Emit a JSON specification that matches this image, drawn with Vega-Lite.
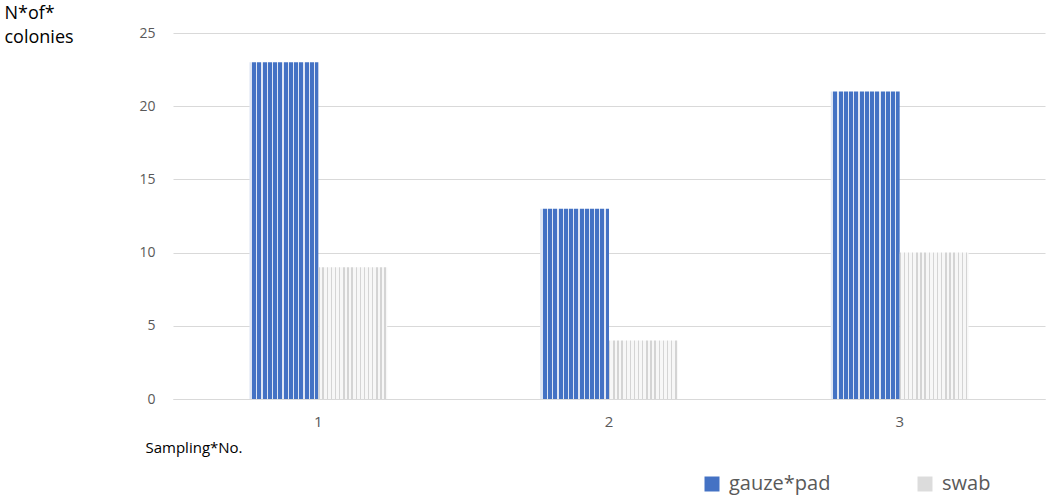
{
  "$schema": "https://vega.github.io/schema/vega-lite/v6.json",
  "width": 872,
  "height": 366,
  "autosize": "none",
  "padding": {"left": 173, "top": 33, "right": 1, "bottom": 103},
  "background": "white",
  "config": {
    "font": "Open Sans",
    "view": {"stroke": null}
  },
  "data": {
    "values": [
      {"sample": "1", "series": "gauze*pad", "colonies": 23},
      {"sample": "1", "series": "swab", "colonies": 9},
      {"sample": "2", "series": "gauze*pad", "colonies": 13},
      {"sample": "2", "series": "swab", "colonies": 4},
      {"sample": "3", "series": "gauze*pad", "colonies": 21},
      {"sample": "3", "series": "swab", "colonies": 10}
    ]
  },
  "encoding": {
    "x": {
      "field": "sample",
      "type": "nominal",
      "scale": {"domain": ["1", "2", "3"], "paddingInner": 0.526, "paddingOuter": 0.263},
      "axis": {
        "title": "Sampling*No.",
        "titleFontSize": 15,
        "titleFontWeight": "normal",
        "titleColor": "#000000",
        "titleAlign": "left",
        "titleAnchor": "start",
        "titleX": -28,
        "titleY": 48,
        "titleBaseline": "middle",
        "labelAngle": 0,
        "labelFontSize": 15,
        "labelColor": "#595959",
        "labelPadding": 15,
        "ticks": false,
        "domain": true,
        "domainColor": "#d9d9d9",
        "domainWidth": 1
      }
    },
    "xOffset": {"field": "series", "type": "nominal", "scale": {"domain": ["gauze*pad", "swab"], "paddingInner": 0, "paddingOuter": 0}},
    "y": {
      "field": "colonies",
      "type": "quantitative",
      "scale": {"domain": [0, 25]},
      "axis": {
        "values": [0, 5, 10, 15, 20, 25],
        "title": ["N*of*", "colonies"],
        "titleAngle": 0,
        "titleFontSize": 18,
        "titleFontWeight": "normal",
        "titleColor": "#000000",
        "titleAlign": "left",
        "titleBaseline": "top",
        "titleLineHeight": 24,
        "titleX": -169,
        "titleY": -29,
        "labelFontSize": 14,
        "labelColor": "#595959",
        "labelPadding": 18,
        "ticks": false,
        "domain": false,
        "grid": true,
        "gridColor": "#d9d9d9",
        "gridWidth": 1
      }
    }
  },
  "layer": [
    {
      "transform": [{"filter": "datum.series === 'gauze*pad'"}],
      "mark": {
        "type": "bar",
        "fill": {
          "gradient": "linear", "x1": 0, "y1": 0, "x2": 1, "y2": 0,
          "stops": [
            {"offset": 0, "color": "#dfe6f4"}, {"offset": 0.039, "color": "#dfe6f4"},
            {"offset": 0.039, "color": "#4472c4"}, {"offset": 0.097, "color": "#4472c4"},
            {"offset": 0.097, "color": "#dfe6f4"}, {"offset": 0.115, "color": "#dfe6f4"},
            {"offset": 0.115, "color": "#4472c4"}, {"offset": 0.173, "color": "#4472c4"},
            {"offset": 0.173, "color": "#dfe6f4"}, {"offset": 0.191, "color": "#dfe6f4"},
            {"offset": 0.191, "color": "#4472c4"}, {"offset": 0.249, "color": "#4472c4"},
            {"offset": 0.249, "color": "#dfe6f4"}, {"offset": 0.267, "color": "#dfe6f4"},
            {"offset": 0.267, "color": "#4472c4"}, {"offset": 0.325, "color": "#4472c4"},
            {"offset": 0.325, "color": "#dfe6f4"}, {"offset": 0.343, "color": "#dfe6f4"},
            {"offset": 0.343, "color": "#4472c4"}, {"offset": 0.401, "color": "#4472c4"},
            {"offset": 0.401, "color": "#dfe6f4"}, {"offset": 0.420, "color": "#dfe6f4"},
            {"offset": 0.420, "color": "#4472c4"}, {"offset": 0.478, "color": "#4472c4"},
            {"offset": 0.478, "color": "#dfe6f4"}, {"offset": 0.496, "color": "#dfe6f4"},
            {"offset": 0.496, "color": "#4472c4"}, {"offset": 0.554, "color": "#4472c4"},
            {"offset": 0.554, "color": "#dfe6f4"}, {"offset": 0.572, "color": "#dfe6f4"},
            {"offset": 0.572, "color": "#4472c4"}, {"offset": 0.630, "color": "#4472c4"},
            {"offset": 0.630, "color": "#dfe6f4"}, {"offset": 0.648, "color": "#dfe6f4"},
            {"offset": 0.648, "color": "#4472c4"}, {"offset": 0.706, "color": "#4472c4"},
            {"offset": 0.706, "color": "#dfe6f4"}, {"offset": 0.724, "color": "#dfe6f4"},
            {"offset": 0.724, "color": "#4472c4"}, {"offset": 0.782, "color": "#4472c4"},
            {"offset": 0.782, "color": "#dfe6f4"}, {"offset": 0.800, "color": "#dfe6f4"},
            {"offset": 0.800, "color": "#4472c4"}, {"offset": 0.858, "color": "#4472c4"},
            {"offset": 0.858, "color": "#dfe6f4"}, {"offset": 0.876, "color": "#dfe6f4"},
            {"offset": 0.876, "color": "#4472c4"}, {"offset": 0.934, "color": "#4472c4"},
            {"offset": 0.934, "color": "#dfe6f4"}, {"offset": 0.952, "color": "#dfe6f4"},
            {"offset": 0.952, "color": "#4472c4"}, {"offset": 1, "color": "#4472c4"}
          ]
        }
      }
    },
    {
      "transform": [{"filter": "datum.series === 'swab'"}],
      "mark": {
        "type": "bar",
        "fill": {
          "gradient": "linear", "x1": 0, "y1": 0, "x2": 1, "y2": 0,
          "stops": [
            {"offset": 0, "color": "#d4d4d4"}, {"offset": 0.02, "color": "#d4d4d4"},
            {"offset": 0.02, "color": "#f7f7f7"}, {"offset": 0.06, "color": "#f7f7f7"},
            {"offset": 0.06, "color": "#d4d4d4"}, {"offset": 0.08, "color": "#d4d4d4"},
            {"offset": 0.08, "color": "#f7f7f7"}, {"offset": 0.12, "color": "#f7f7f7"},
            {"offset": 0.12, "color": "#d4d4d4"}, {"offset": 0.14, "color": "#d4d4d4"},
            {"offset": 0.14, "color": "#f7f7f7"}, {"offset": 0.18, "color": "#f7f7f7"},
            {"offset": 0.18, "color": "#d4d4d4"}, {"offset": 0.20, "color": "#d4d4d4"},
            {"offset": 0.20, "color": "#f7f7f7"}, {"offset": 0.24, "color": "#f7f7f7"},
            {"offset": 0.24, "color": "#d4d4d4"}, {"offset": 0.26, "color": "#d4d4d4"},
            {"offset": 0.26, "color": "#f7f7f7"}, {"offset": 0.30, "color": "#f7f7f7"},
            {"offset": 0.30, "color": "#d4d4d4"}, {"offset": 0.32, "color": "#d4d4d4"},
            {"offset": 0.32, "color": "#f7f7f7"}, {"offset": 0.36, "color": "#f7f7f7"},
            {"offset": 0.36, "color": "#d4d4d4"}, {"offset": 0.38, "color": "#d4d4d4"},
            {"offset": 0.38, "color": "#f7f7f7"}, {"offset": 0.42, "color": "#f7f7f7"},
            {"offset": 0.42, "color": "#d4d4d4"}, {"offset": 0.44, "color": "#d4d4d4"},
            {"offset": 0.44, "color": "#f7f7f7"}, {"offset": 0.48, "color": "#f7f7f7"},
            {"offset": 0.48, "color": "#d4d4d4"}, {"offset": 0.50, "color": "#d4d4d4"},
            {"offset": 0.50, "color": "#f7f7f7"}, {"offset": 0.54, "color": "#f7f7f7"},
            {"offset": 0.54, "color": "#d4d4d4"}, {"offset": 0.56, "color": "#d4d4d4"},
            {"offset": 0.56, "color": "#f7f7f7"}, {"offset": 0.60, "color": "#f7f7f7"},
            {"offset": 0.60, "color": "#d4d4d4"}, {"offset": 0.62, "color": "#d4d4d4"},
            {"offset": 0.62, "color": "#f7f7f7"}, {"offset": 0.66, "color": "#f7f7f7"},
            {"offset": 0.66, "color": "#d4d4d4"}, {"offset": 0.68, "color": "#d4d4d4"},
            {"offset": 0.68, "color": "#f7f7f7"}, {"offset": 0.72, "color": "#f7f7f7"},
            {"offset": 0.72, "color": "#d4d4d4"}, {"offset": 0.74, "color": "#d4d4d4"},
            {"offset": 0.74, "color": "#f7f7f7"}, {"offset": 0.78, "color": "#f7f7f7"},
            {"offset": 0.78, "color": "#d4d4d4"}, {"offset": 0.80, "color": "#d4d4d4"},
            {"offset": 0.80, "color": "#f7f7f7"}, {"offset": 0.84, "color": "#f7f7f7"},
            {"offset": 0.84, "color": "#d4d4d4"}, {"offset": 0.86, "color": "#d4d4d4"},
            {"offset": 0.86, "color": "#f7f7f7"}, {"offset": 0.90, "color": "#f7f7f7"},
            {"offset": 0.90, "color": "#d4d4d4"}, {"offset": 0.92, "color": "#d4d4d4"},
            {"offset": 0.92, "color": "#f7f7f7"}, {"offset": 0.96, "color": "#f7f7f7"},
            {"offset": 0.96, "color": "#d4d4d4"}, {"offset": 0.98, "color": "#d4d4d4"},
            {"offset": 0.98, "color": "#f7f7f7"}, {"offset": 1, "color": "#f7f7f7"}
          ]
        }
      }
    },
    {
      "transform": [{"filter": "datum.colonies < 0"}],
      "mark": {"type": "bar"},
      "encoding": {
        "color": {
          "field": "series",
          "type": "nominal",
          "scale": {"domain": ["gauze*pad", "swab"], "range": ["#4472c4", "#dcdcdc"]},
          "legend": {
            "title": null,
            "orient": "none",
            "direction": "horizontal",
            "legendX": 529,
            "legendY": 441,
            "symbolType": "square",
            "symbolSize": 225,
            "symbolStrokeWidth": 0,
            "symbolOpacity": 1,
            "labelFontSize": 20,
            "labelColor": "#595959",
            "labelOffset": 7,
            "columnPadding": 84
          }
        }
      }
    }
  ]
}
